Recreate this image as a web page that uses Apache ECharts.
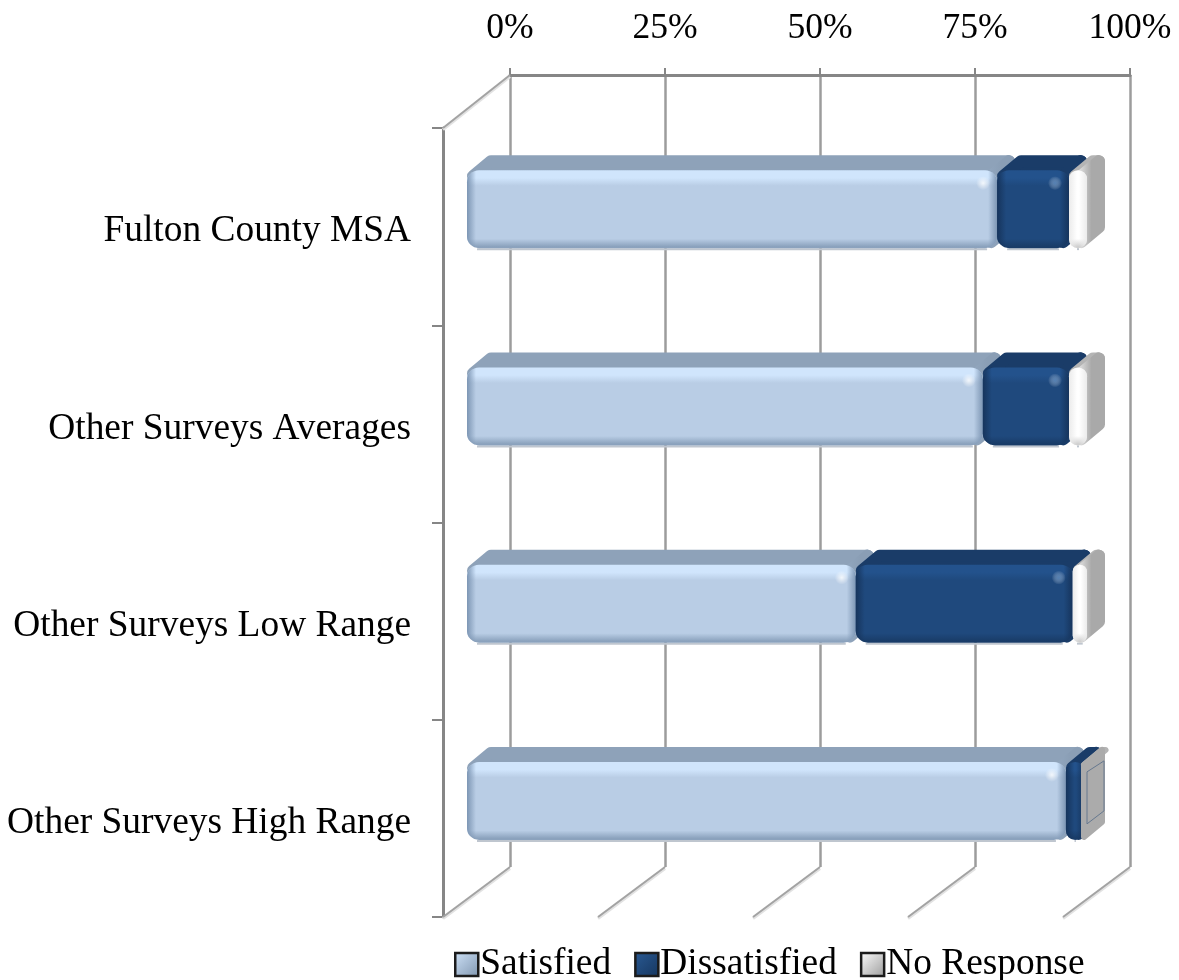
<!DOCTYPE html>
<html><head><meta charset="utf-8">
<style>html,body{margin:0;padding:0;background:#fff}#c{width:1179px;height:980px}</style>
<script src="https://cdn.jsdelivr.net/npm/echarts@6/dist/echarts.min.js"></script>
</head><body><div id="c"></div>
<script>
const categories = ['Fulton County MSA','Other Surveys Averages','Other Surveys Low Range','Other Surveys High Range'];
const satisfied = [85.5, 83.2, 62.7, 96.6];
const dissatisfied = [11.6, 13.9, 35, 3];
const noResponse = [2.9, 2.9, 2.3, 0.4];
const tickValues = [0, 25, 50, 75, 100];
const legendNames = ['Satisfied','Dissatisfied','No Response'];

const FONT = '"Liberation Serif","Times New Roman",serif';
const DEPTH_X = 18, DEPTH_Y = 15, BAR_SHIFT_X = 24, BAR_SHIFT_Y = -17.5, BAR_H = 78, FLOOR_X = -67, FLOOR_Y = 50;
const palettes = [
 {top:'#8ea2b9', side:['#93a8c0','#8a9eb5'], hi:'#d0e5fc', face:'#b9cde5', low:'#8ba2bd', edge:'rgba(125,150,180,1)', edge0:'rgba(125,150,180,0)', glint:'rgba(255,255,255,.8)'},
 {top:'#1a3c68', side:['#1a3c68','#1a3c68'], hi:'#23528c', face:'#1f497d', low:'#193c68', edge:'rgba(22,52,92,1)', edge0:'rgba(22,52,92,0)', glint:'rgba(110,155,205,.65)'},
 {top:'#b4b4b4', side:['#f2f2f2','#a9a9a9'], hi:'#ffffff', face:'#ffffff', low:'#d0d0d0', edge:'rgba(235,235,235,1)', edge0:'rgba(235,235,235,0)', glint:'rgba(255,255,255,0)'}
];
const starts = [satisfied.map(()=>0), satisfied, satisfied.map((v,i)=>v+dissatisfied[i])];
const groups = [satisfied, dissatisfied, noResponse];

function renderBar(sIdx){
  const p = palettes[sIdx];
  return function(params, api){
    const cat = api.value(0), a = api.value(1), b = api.value(2);
    const c0 = api.coord([a, cat]), c1 = api.coord([b, cat]);
    const x0 = c0[0] + BAR_SHIFT_X, x1 = c1[0] + BAR_SHIFT_X, cy = c0[1] + BAR_SHIFT_Y;
    const y0 = cy - BAR_H/2, y1 = cy + BAR_H/2, w = x1 - x0;
    const thin = w < 6;
    const ins = thin ? 3 : 6;
    const kids = [];
    const sideFill = thin ? '#ababab' : {type:'linear',x:0,y:0,x2:1,y2:0,colorStops:[{offset:0,color:p.side[0]},{offset:.55,color:p.side[1]},{offset:1,color:p.side[1]}]};
    const top = [[x0+ins,y0+ins],[x0+DEPTH_X+ins,y0-DEPTH_Y+ins],[x1+DEPTH_X-ins,y0-DEPTH_Y+ins],[x1-ins,y0+ins]];
    const side = [[x1-ins,y0+ins],[x1+DEPTH_X-ins,y0-DEPTH_Y+ins],[x1+DEPTH_X-ins,y1-DEPTH_Y-ins],[x1-ins,y1-ins]];
    if (!thin) kids.push({type:'line',shape:{x1:x0+10,y1:y1+1,x2:x1-10,y2:y1+1},style:{stroke:'#bfc6cf',lineWidth:2}});
    kids.push({type:'polygon',shape:{points:top},style:{fill:p.top,stroke:p.top,lineWidth:ins*2,lineJoin:'round'}});
    kids.push({type:'polygon',shape:{points:side},style:{fill:sideFill,stroke:sideFill,lineWidth:ins*2,lineJoin:'round'}});
    if (thin) {
      const t = [[x1,y0+10],[x1+DEPTH_X-1,y0-1],[x1+DEPTH_X-1,y1-29],[x1,y1-16]];
      kids.push({type:'polygon',shape:{points:t},style:{fill:'#ababab',stroke:'#66788f',lineWidth:1}});
    } else {
      const r = Math.min(12, w/2);
      const f = Math.min(9/w, .45);
      kids.push({type:'rect',shape:{x:x0,y:y0,width:w,height:BAR_H,r},style:{fill:{type:'linear',x:0,y:0,x2:0,y2:1,colorStops:[
        {offset:0,color:p.hi},{offset:.1,color:p.hi},{offset:.2,color:p.face},{offset:.88,color:p.face},{offset:.98,color:p.low},{offset:1,color:p.low}]}}});
      kids.push({type:'rect',shape:{x:x0,y:y0,width:w,height:BAR_H,r},style:{fill:{type:'linear',x:0,y:0,x2:1,y2:0,colorStops:[
        {offset:0,color:p.edge},{offset:f,color:p.edge0},{offset:1-f,color:p.edge0},{offset:1,color:p.edge}]}}});
      if (w > 30) kids.push({type:'circle',shape:{cx:x1-14,cy:y0+13,r:7},style:{fill:{type:'radial',x:.5,y:.5,r:.5,colorStops:[{offset:0,color:p.glint},{offset:1,color:'rgba(255,255,255,0)'}]}}});
    }
    return {type:'group',children:kids};
  };
}

const barSeries = legendNames.map((name,s)=>({
  name, type:'custom', xAxisIndex:1, yAxisIndex:1, z:5+s,
  renderItem:renderBar(s), clip:false, silent:true,
  encode:{x:[1,2],y:0},
  data:categories.map((c,i)=>[i, starts[s][i], starts[s][i]+groups[s][i]])
}));

const depthSeries = {
  type:'custom', xAxisIndex:0, yAxisIndex:0, z:3, clip:false, silent:true,
  encode:{x:0,y:1},
  renderItem(params, api){
    const c = api.coord([api.value(0), api.value(1)]);
    const dy = api.value(1) > 0 ? 53 : FLOOR_Y;
    return {type:'group',children:[
      {type:'line',shape:{x1:c[0],y1:c[1]+1.5,x2:c[0]+FLOOR_X,y2:c[1]+dy+1.5},style:{stroke:'#e2e2e2',lineWidth:3}},
      {type:'line',shape:{x1:c[0],y1:c[1],x2:c[0]+FLOOR_X,y2:c[1]+dy},style:{stroke:'#a3a3a3',lineWidth:2}}
    ]};
  },
  data: tickValues.map(v=>[v,0]).concat([[tickValues[0],1]])
};

const icon = (a,b)=>({color:{type:'linear',x:0,y:0,x2:1,y2:1,colorStops:[{offset:0,color:a},{offset:1,color:b}]},borderColor:'#1c1c1c',borderWidth:2.5});

const chart = echarts.init(document.getElementById('c'), null, {renderer:'canvas'});
chart.setOption({
  animation:false,
  backgroundColor:'#fff',
  grid:[
    {left:510,top:75,width:620,height:792},
    {left:443,top:128,width:620,height:789}
  ],
  xAxis:[
    {gridIndex:0,type:'value',position:'top',min:0,max:100,interval:25,
     axisLine:{show:true,onZero:false,lineStyle:{color:'#868686',width:3}},
     axisTick:{show:true,length:7,lineStyle:{color:'#868686',width:2}},
     splitLine:{show:true,lineStyle:{color:'#9c9c9c',width:2.5}},
     axisLabel:{formatter:'{value}%',color:'#000',fontFamily:FONT,fontSize:35.5,margin:28,hideOverlap:false}},
    {gridIndex:1,type:'value',min:0,max:100,show:false,splitLine:{show:false}}
  ],
  yAxis:[
    {gridIndex:0,type:'value',min:0,max:1,show:false,splitLine:{show:false}},
    {gridIndex:1,type:'category',inverse:true,data:categories,
     axisLine:{show:true,lineStyle:{color:'#868686',width:3}},
     axisTick:{show:true,length:11,alignWithLabel:false,lineStyle:{color:'#868686',width:2}},
     axisLabel:{color:'#000',fontFamily:FONT,fontSize:37.4,margin:32,interval:0,verticalAlign:'top',lineHeight:10}}
  ],
  legend:{
    left:449, top:941, itemWidth:23, itemHeight:23, itemGap:23,
    textStyle:{color:'#000',fontFamily:FONT,fontSize:37.4,padding:[0,0,0,-3]},
    selectedMode:false,
    data:[
      {name:legendNames[0],icon:'rect',itemStyle:icon('#cfe3f9','#7f95ae')},
      {name:legendNames[1],icon:'rect',itemStyle:icon('#2a5a94','#16365e')},
      {name:legendNames[2],icon:'rect',itemStyle:icon('#ffffff','#9a9a9a')}
    ]
  },
  series:[depthSeries].concat(barSeries)
});
</script></body></html>
